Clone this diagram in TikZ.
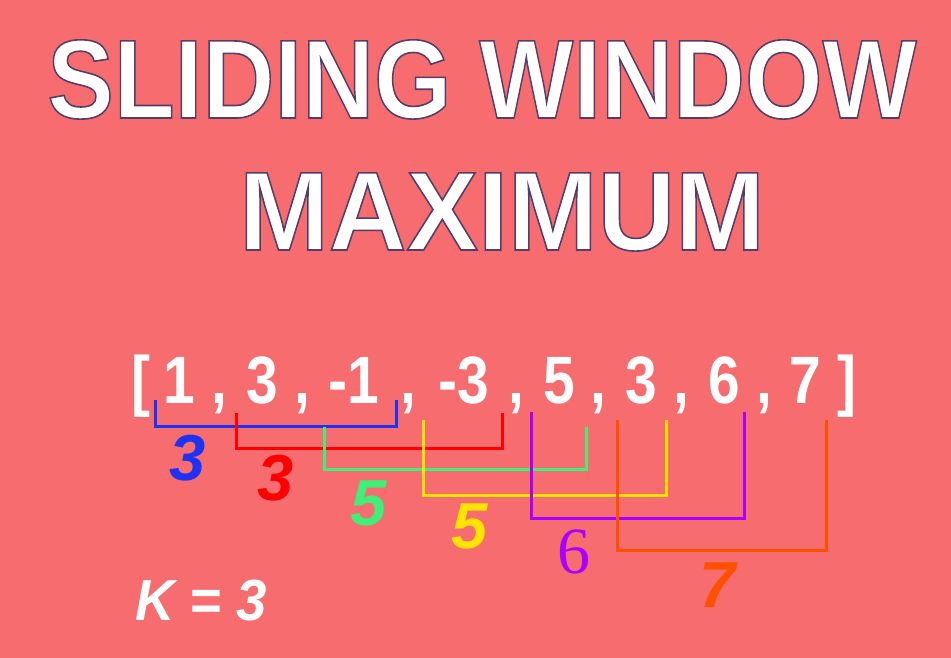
\documentclass[tikz,border=0pt]{standalone}
\usepackage{fontspec}
\setmainfont{Liberation Sans}
\newfontfamily\serifnum{Liberation Serif}
\newcommand{\outlined}[1]{\special{pdf:literal direct 2 Tr 1.6 w 0.33 0.24 0.41 RG}#1\special{pdf:literal direct 0 Tr}}

\definecolor{bgred}{RGB}{247,108,110}
\definecolor{winblue}{RGB}{30,50,245}
\definecolor{winred}{RGB}{255,0,0}
\definecolor{wingreen}{RGB}{60,240,120}
\definecolor{winyellow}{RGB}{255,228,0}
\definecolor{winpurple}{RGB}{170,0,255}
\definecolor{winorange}{RGB}{255,80,0}

\begin{document}
\begin{tikzpicture}[x=1pt, y=-1pt,
    title/.style={text=white, font=\bfseries\fontsize{112}{112}\selectfont, inner sep=0, anchor=base},
    num/.style={text=white, font=\bfseries\fontsize{67}{67}\selectfont, inner sep=0, anchor=base, xscale=0.85},
    win/.style={line width=3pt, draw=#1},
    lbl/.style={text=#1, font=\bfseries\itshape\fontsize{65}{65}\selectfont, inner sep=0, anchor=base}]
    % Fonas
    \fill[bgred] (0,0) rectangle (951,658);
    \useasboundingbox (0,0) rectangle (951,658);

    % Pavadinimas
    \node[title, xscale=0.89] (head1) at (482,118) {\outlined{SLIDING WINDOW}};
    \node[title, xscale=0.96] (head2) at (502,250) {\outlined{MAXIMUM}};

    % Masyvas
    \node[num] (lbr) at (141,403) {[};
    \node[num] (rbr) at (847,403) {]};
    \foreach \v/\x [count=\i] in {1/179,3/262,-1/354,-3/464,5/559,3/641,6/724,7/805}
        \node[num] (a\i) at (\x,403) {\v};
    \foreach \x [count=\i] in {219,302,408,516,598,681,764}
        \node[num] (c\i) at (\x,403) {,};

    % Langai
    \draw[win=winblue] (155,400) |- (396,426) -- (396,400);
    \draw[win=winred] (236,413) |- (502,448) -- (502,413);
    \draw[win=wingreen] (324,427) |- (586,469) -- (586,427);
    \draw[win=winyellow] (423,420) |- (666,495) -- (666,420);
    \draw[win=winpurple] (531,412) |- (744,518) -- (744,412);
    \draw[win=winorange] (617,420) |- (826,550) -- (826,420);

    % Maksimumai
    \node[lbl=winblue] (m1) at (188,480) {3};
    \node[lbl=winred] (m2) at (276,500) {3};
    \node[lbl=wingreen] (m3) at (369,525) {5};
    \node[lbl=winyellow] (m4) at (470,548) {5};
    \node[text=winpurple, font=\serifnum\fontsize{66}{66}\selectfont, inner sep=0, anchor=base] (m5) at (574,573) {6};
    \node[lbl=winorange] (m6) at (718,607) {7};

    \node[lbl=white, font=\bfseries\itshape\fontsize{58}{58}\selectfont, xscale=0.94] (k) at (201,620) {K = 3};
\end{tikzpicture}
\end{document}
